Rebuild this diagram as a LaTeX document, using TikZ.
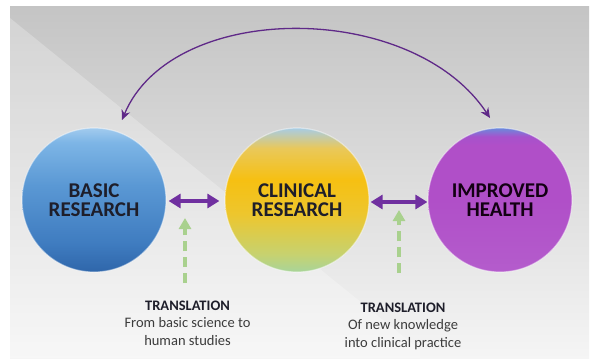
\documentclass[tikz,border=0pt]{standalone}
\usepackage{fontspec}
\setmainfont{Carlito}
\usetikzlibrary{arrows.meta,shadings}
\definecolor{arrpurple}{HTML}{7030A0}
\definecolor{arrgreen}{HTML}{A9D18E}
\definecolor{txtdark}{HTML}{1E1E2A}
\definecolor{txtgray}{HTML}{3C3C3C}
\definecolor{bB}{HTML}{2F66AA}
\definecolor{bM2}{HTML}{3F7CC0}
\definecolor{bM}{HTML}{5A98D4}
\definecolor{bT2}{HTML}{7DB5E6}
\definecolor{bT}{HTML}{A2CBEE}
\pgfdeclareverticalshading{basicsh}{100bp}{color(0bp)=(bB); color(25bp)=(bB); color(35bp)=(bM2); color(55bp)=(bM); color(70bp)=(bT2); color(75bp)=(bT); color(100bp)=(bT)}
\definecolor{cB}{HTML}{A8D49A}
\definecolor{cB2}{HTML}{C6D270}
\definecolor{cM}{HTML}{EDC62E}
\definecolor{cM2}{HTML}{F6C012}
\definecolor{cT2}{HTML}{E9C85A}
\definecolor{cT}{HTML}{A8CCE4}
\pgfdeclareverticalshading{clinsh}{100bp}{color(0bp)=(cB); color(25bp)=(cB); color(31bp)=(cB2); color(45bp)=(cM); color(57bp)=(cM2); color(68bp)=(cT2); color(75bp)=(cT); color(100bp)=(cT)}
\definecolor{hB}{HTML}{B45CCC}
\definecolor{hM}{HTML}{B04FC8}
\definecolor{hT2}{HTML}{A652CC}
\definecolor{hT}{HTML}{6A8ADC}
\pgfdeclareverticalshading{healthsh}{100bp}{color(0bp)=(hB); color(25bp)=(hB); color(50bp)=(hM); color(69bp)=(hM); color(72bp)=(hT2); color(75bp)=(hT); color(100bp)=(hT)}
\begin{document}
\begin{tikzpicture}[x=1pt,y=-1pt,
  bubble/.style={circle, minimum size=144pt, inner sep=0pt, shade,
    draw=white, draw opacity=0.45, line width=1.2pt,
    align=center, font=\bfseries\fontsize{21}{19.5}\selectfont, text=txtdark},
  bigarrow/.style={{Triangle[length=12pt,width=14pt]}-{Triangle[length=12pt,width=14pt]},
    line width=4.5pt, arrpurple},
  greenarrow/.style={-{Triangle[length=11pt,width=12pt]}, line width=3.5pt,
    arrgreen, dash pattern=on 10pt off 6pt},
  arcarrow/.style={{Stealth[length=10pt,width=9pt]}-{Stealth[length=10pt,width=9pt]},
    line width=1.3pt, arrpurple!85!black},
  caption/.style={align=center, font=\fontsize{14.5}{17.5}\selectfont, text=txtgray}
]
\useasboundingbox (0,0) rectangle (594,359);
\fill[white] (0,0) rectangle (594,359);
% background panel
\shade[top color=black!23, bottom color=black!4] (10,6) rectangle (589,358);
\fill[white, opacity=0.25] (10,18) -- (420,350) -- (420,358) -- (10,358) -- cycle;

% circles
\node[bubble, shading=basicsh] (basic) at (94,200) {BASIC\\RESEARCH};
\node[bubble, shading=clinsh] (clinical) at (297,200) {CLINICAL\\RESEARCH};
\node[bubble, shading=healthsh, text=black!85!violet] (health) at (500,200) {IMPROVED\\HEALTH};

% double arrows
\draw[bigarrow] ([yshift=-1pt,xshift=2pt]basic.east) -- ([yshift=-1pt,xshift=-5pt]clinical.west);
\draw[bigarrow] ([yshift=-2pt,xshift=1pt]clinical.east) -- ([yshift=-2pt]health.west);

% top arc
\coordinate (arcL) at (122,120);
\coordinate (arcR) at (490,118);
\draw[arcarrow] (arcL) .. controls (172,0) and (412,0) .. (arcR);

% translation labels
\node[caption, anchor=north] (t1) at (187.5,297) {{\bfseries\color{txtdark}TRANSLATION}\\From basic science to\\human studies};
\node[caption, anchor=north] (t2) at (403,299) {{\bfseries\color{txtdark}TRANSLATION}\\Of new knowledge\\into clinical practice};

% green dashed arrows
\coordinate (g1s) at (185,283);
\coordinate (g1e) at (185,218);
\coordinate (g2s) at (399,273);
\coordinate (g2e) at (399,210);
\draw[greenarrow] (g1s) -- (g1e);
\draw[greenarrow] (g2s) -- (g2e);
\end{tikzpicture}
\end{document}
